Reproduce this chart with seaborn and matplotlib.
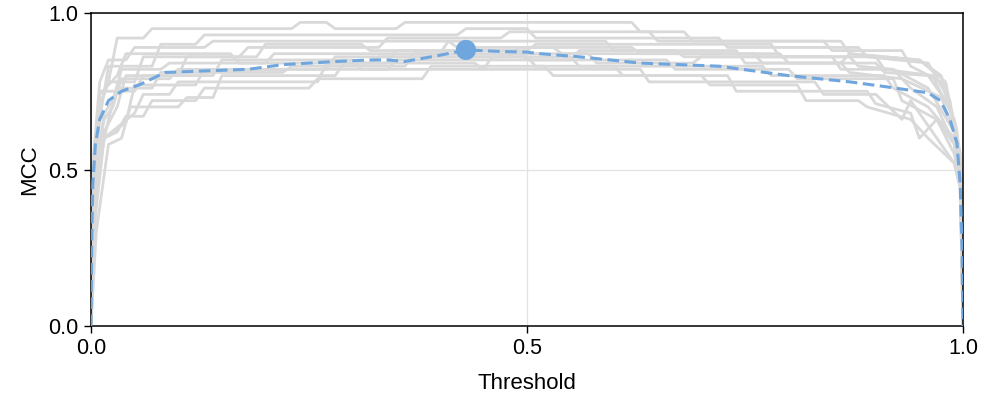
import numpy as np
import pandas as pd
import seaborn as sns
import matplotlib.pyplot as plt

# per-fold MCC curves (threshold, mcc)
folds = {
    "A": ([0, 0.003, 0.01, 0.02, 0.03, 0.06, 0.07, 0.23, 0.24, 0.27, 0.28, 0.35, 0.36, 0.62, 0.63, 0.68, 0.69, 0.86, 0.87, 0.95, 0.98, 0.997, 1],
          [0, 0.5, 0.7, 0.78, 0.92, 0.92, 0.95, 0.95, 0.97, 0.97, 0.95, 0.95, 0.97, 0.97, 0.94, 0.94, 0.91, 0.91, 0.87, 0.85, 0.78, 0.55, 0]),
    "B": ([0, 0.003, 0.01, 0.02, 0.07, 0.08, 0.12, 0.13, 0.42, 0.43, 0.5, 0.51, 0.72, 0.73, 0.88, 0.89, 0.96, 0.985, 0.998, 1],
          [0, 0.45, 0.66, 0.83, 0.83, 0.90, 0.90, 0.93, 0.93, 0.95, 0.95, 0.92, 0.92, 0.89, 0.89, 0.86, 0.84, 0.72, 0.5, 0]),
    "C": ([0, 0.004, 0.015, 0.03, 0.04, 0.1, 0.11, 0.19, 0.2, 0.31, 0.32, 0.5, 0.51, 0.78, 0.79, 0.9, 0.91, 0.965, 0.99, 0.998, 1],
          [0, 0.4, 0.62, 0.70, 0.80, 0.80, 0.86, 0.86, 0.90, 0.90, 0.88, 0.88, 0.90, 0.90, 0.86, 0.86, 0.82, 0.80, 0.66, 0.48, 0]),
    "D": ([0, 0.005, 0.015, 0.05, 0.06, 0.09, 0.1, 0.26, 0.27, 0.34, 0.35, 0.49, 0.5, 0.66, 0.67, 0.8, 0.81, 0.92, 0.93, 0.97, 0.99, 0.997, 1],
          [0, 0.4, 0.6, 0.68, 0.74, 0.74, 0.78, 0.78, 0.84, 0.84, 0.88, 0.88, 0.85, 0.85, 0.82, 0.82, 0.79, 0.79, 0.72, 0.66, 0.58, 0.46, 0]),
    "E": ([0, 0.003, 0.01, 0.05, 0.06, 0.14, 0.15, 0.3, 0.31, 0.45, 0.46, 0.55, 0.56, 0.77, 0.78, 0.91, 0.92, 0.96, 0.99, 0.998, 1],
          [0, 0.5, 0.75, 0.75, 0.80, 0.80, 0.85, 0.85, 0.82, 0.82, 0.86, 0.86, 0.83, 0.83, 0.80, 0.80, 0.76, 0.70, 0.6, 0.45, 0]),
    "F": ([0, 0.005, 0.015, 0.03, 0.04, 0.06, 0.07, 0.12, 0.13, 0.25, 0.26, 0.38, 0.39, 0.52, 0.53, 0.7, 0.71, 0.81, 0.82, 0.88, 0.89, 0.94, 0.96, 0.99, 0.997, 1],
          [0, 0.35, 0.6, 0.62, 0.67, 0.67, 0.72, 0.72, 0.76, 0.76, 0.79, 0.79, 0.83, 0.83, 0.80, 0.80, 0.77, 0.77, 0.72, 0.72, 0.70, 0.66, 0.60, 0.52, 0.44, 0]),
    "G": ([0, 0.004, 0.015, 0.025, 0.035, 0.08, 0.09, 0.2, 0.21, 0.4, 0.41, 0.59, 0.6, 0.74, 0.75, 0.86, 0.87, 0.93, 0.975, 0.993, 0.998, 1],
          [0, 0.45, 0.68, 0.72, 0.82, 0.82, 0.84, 0.84, 0.87, 0.87, 0.91, 0.91, 0.88, 0.88, 0.84, 0.84, 0.81, 0.79, 0.73, 0.6, 0.47, 0]),
    "H": ([0, 0.003, 0.012, 0.02, 0.05, 0.06, 0.17, 0.18, 0.33, 0.34, 0.47, 0.48, 0.64, 0.65, 0.84, 0.85, 0.93, 0.94, 0.975, 0.992, 0.998, 1],
          [0, 0.5, 0.72, 0.78, 0.78, 0.86, 0.86, 0.89, 0.89, 0.92, 0.92, 0.94, 0.94, 0.91, 0.91, 0.88, 0.88, 0.83, 0.78, 0.64, 0.5, 0]),
    "I": ([0, 0.006, 0.02, 0.035, 0.045, 0.1, 0.11, 0.14, 0.15, 0.28, 0.29, 0.44, 0.45, 0.63, 0.64, 0.83, 0.84, 0.9, 0.93, 0.94, 0.965, 0.99, 0.997, 1],
          [0, 0.3, 0.58, 0.60, 0.70, 0.70, 0.73, 0.73, 0.80, 0.80, 0.84, 0.84, 0.82, 0.82, 0.78, 0.78, 0.74, 0.74, 0.66, 0.72, 0.62, 0.52, 0.44, 0]),
    "J": ([0, 0.004, 0.02, 0.03, 0.07, 0.08, 0.22, 0.23, 0.36, 0.37, 0.57, 0.58, 0.69, 0.7, 0.87, 0.88, 0.92, 0.96, 0.99, 0.998, 1],
          [0, 0.45, 0.66, 0.76, 0.76, 0.81, 0.81, 0.83, 0.83, 0.87, 0.87, 0.84, 0.84, 0.86, 0.86, 0.83, 0.82, 0.76, 0.62, 0.48, 0]),
    "K": ([0, 0.005, 0.015, 0.04, 0.05, 0.12, 0.13, 0.27, 0.28, 0.5, 0.51, 0.6, 0.61, 0.73, 0.74, 0.89, 0.9, 0.94, 0.95, 0.97, 0.99, 0.997, 1],
          [0, 0.4, 0.6, 0.65, 0.77, 0.77, 0.82, 0.82, 0.86, 0.86, 0.83, 0.83, 0.80, 0.80, 0.75, 0.75, 0.71, 0.68, 0.60, 0.66, 0.55, 0.45, 0]),
    "L": ([0, 0.003, 0.01, 0.02, 0.04, 0.05, 0.13, 0.14, 0.41, 0.42, 0.53, 0.54, 0.76, 0.77, 0.9, 0.91, 0.96, 0.985, 0.998, 1],
          [0, 0.55, 0.78, 0.85, 0.85, 0.89, 0.89, 0.91, 0.91, 0.89, 0.89, 0.87, 0.87, 0.84, 0.84, 0.81, 0.80, 0.7, 0.5, 0]),
    "M": ([0, 0.004, 0.015, 0.025, 0.035, 0.09, 0.1, 0.34, 0.35, 0.55, 0.56, 0.67, 0.68, 0.85, 0.86, 0.92, 0.94, 0.97, 0.99, 0.997, 1],
          [0, 0.48, 0.66, 0.70, 0.79, 0.79, 0.82, 0.82, 0.85, 0.85, 0.88, 0.88, 0.86, 0.86, 0.82, 0.82, 0.76, 0.70, 0.58, 0.45, 0]),
    "N": ([0, 0.003, 0.01, 0.03, 0.04, 0.16, 0.17, 0.32, 0.33, 0.48, 0.49, 0.62, 0.63, 0.79, 0.8, 0.86, 0.87, 0.95, 0.975, 0.993, 0.998, 1],
          [0, 0.5, 0.74, 0.80, 0.87, 0.87, 0.84, 0.84, 0.86, 0.86, 0.89, 0.89, 0.87, 0.87, 0.84, 0.84, 0.87, 0.85, 0.8, 0.62, 0.5, 0]),
}

# mean curve
mean_t = [0, 0.001, 0.002, 0.005, 0.01, 0.02, 0.035, 0.055, 0.085, 0.13, 0.18, 0.22, 0.28, 0.32, 0.34, 0.36,
          0.4, 0.43, 0.47, 0.5, 0.515, 0.56, 0.63, 0.72, 0.8, 0.87, 0.91, 0.96, 0.974, 0.985, 0.993, 0.9966, 0.999, 1]
mean_mcc = [0, 0.3, 0.45, 0.58, 0.66, 0.72, 0.75, 0.77, 0.81, 0.815, 0.82, 0.835, 0.845, 0.85, 0.85, 0.845,
            0.865, 0.882, 0.877, 0.875, 0.87, 0.86, 0.84, 0.83, 0.80, 0.78, 0.765, 0.745, 0.72, 0.66, 0.585, 0.46, 0.24, 0]

grey = "#d9d9d9"
blue = "#6fa6de"

df = pd.concat(
    [pd.DataFrame({"fold": k, "Threshold": t, "MCC": m}) for k, (t, m) in folds.items()],
    ignore_index=True,
)
mean_df = pd.DataFrame({"Threshold": mean_t, "MCC": mean_mcc})
best = mean_df.loc[[mean_df["MCC"].idxmax()]]

sns.set_style("white")
plt.rcParams["font.family"] = ["Liberation Sans", "DejaVu Sans"]

fig = plt.figure(figsize=(9.94, 3.98), dpi=100)
ax = fig.add_axes([91 / 994, 1 - 326 / 398, 872 / 994, 313 / 398])

sns.lineplot(data=df, x="Threshold", y="MCC", units="fold", estimator=None,
             sort=False, color=grey, lw=2.0, ax=ax, zorder=2)
sns.lineplot(data=mean_df, x="Threshold", y="MCC", sort=False, color=blue,
             lw=2.2, ax=ax, zorder=3).lines[-1].set_dashes((3.8, 1.8))
sns.scatterplot(data=best, x="Threshold", y="MCC", color=blue, s=210,
                edgecolor="none", ax=ax, zorder=4)

ax.set_xlim(0, 1)
ax.set_ylim(0, 1)
ax.set_xticks([0, 0.5, 1.0])
ax.set_yticks([0, 0.5, 1.0])
ax.set_xticklabels(["0.0", "0.5", "1.0"])
ax.set_yticklabels(["0.0", "0.5", "1.0"])
ax.grid(True, color="#e3e3e3", lw=0.9)
ax.set_axisbelow(True)
ax.tick_params(direction="out", length=5, width=1, colors="black", labelsize=15.5,
               left=True, bottom=True, pad=4)
for s in ax.spines.values():
    s.set_color("black")
    s.set_linewidth(1.1)
ax.set_xlabel("Threshold", fontsize=16, labelpad=10, color="black")
ax.set_ylabel("MCC", fontsize=16, labelpad=6, color="black")

fig.savefig("out.png", dpi=100)
